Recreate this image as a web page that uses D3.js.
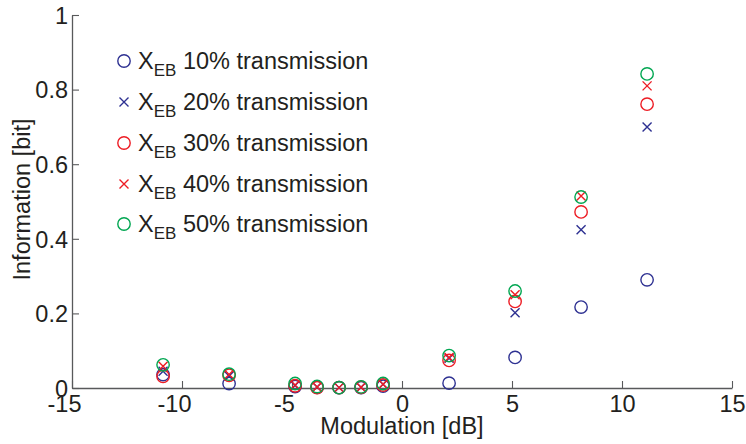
<!DOCTYPE html>
<html>
<head>
<meta charset="utf-8">
<script src="https://cdn.jsdelivr.net/npm/d3@7"></script>
<style>
  html, body { margin: 0; padding: 0; background: #fff; }
  svg { display: block; }
  text { font-family: Arial, "Liberation Sans", sans-serif; fill: #231f20; }
</style>
</head>
<body>
<svg id="chart" width="746" height="444"></svg>
<script>
// Modulation depth (dB) at which information was measured
const modulation = [-10.86, -7.86, -4.86, -3.86, -2.86, -1.86, -0.86, 2.14, 5.14, 8.14, 11.14];

// Information (bit) per transmission level
const trans10 = [0.036, 0.012, 0.004, 0.002, 0.001, 0.001, 0.005, 0.013, 0.082, 0.217, 0.290];
const trans20 = [0.045, 0.032, 0.007, 0.003, 0.001, 0.002, 0.010, 0.080, 0.202, 0.424, 0.700];
const trans30 = [0.031, 0.034, 0.006, 0.001, 0.001, 0.002, 0.008, 0.074, 0.232, 0.472, 0.761];
const trans40 = [0.058, 0.036, 0.008, 0.003, 0.001, 0.002, 0.010, 0.082, 0.250, 0.515, 0.810];
const trans50 = [0.062, 0.037, 0.012, 0.004, 0.001, 0.003, 0.012, 0.087, 0.260, 0.512, 0.842];

const seriesLabels = ["10%", "20%", "30%", "40%", "50%"];
const xTicks = [-15, -10, -5, 0, 5, 10, 15];
const yTicks = [0, 0.2, 0.4, 0.6, 0.8, 1];

const series = [
  { label: seriesLabels[0], values: trans10, marker: "circle", color: "#2e3192" },
  { label: seriesLabels[1], values: trans20, marker: "cross",  color: "#2e3192" },
  { label: seriesLabels[2], values: trans30, marker: "circle", color: "#ed1c24" },
  { label: seriesLabels[3], values: trans40, marker: "cross",  color: "#ed1c24" },
  { label: seriesLabels[4], values: trans50, marker: "circle", color: "#00a651" }
];

const svg = d3.select("#chart");
const margin = { left: 72, right: 14, top: 15, bottom: 56 };
const W = 746, H = 444;

const x = d3.scaleLinear().domain([-15, 15]).range([margin.left, W - margin.right]);
const y = d3.scaleLinear().domain([0, 1]).range([H - margin.bottom, margin.top]);

const axisColor = "#58595b";
const fontSize = 23.5;
const fontFamily = "Arial, 'Liberation Sans', sans-serif";

// plain hyphen for negative numbers
const numFmt = d => String(+d.toFixed(1));

// x axis with inward ticks
const xAxis = svg.append("g").attr("transform", `translate(0,${y(0)})`)
  .call(d3.axisBottom(x).tickValues(xTicks).tickSizeInner(-7).tickSizeOuter(0).tickFormat(numFmt));
xAxis.select(".domain").attr("stroke", axisColor).attr("stroke-width", 1.3);
xAxis.selectAll(".tick line").attr("stroke", axisColor).attr("stroke-width", 1.1);
xAxis.selectAll(".tick text")
  .attr("y", 24).attr("dy", 0)
  .attr("dx", d => d < 0 ? -8 : 0)
  .style("font-size", fontSize + "px")
  .style("font-family", fontFamily)
  .attr("fill", "#231f20");

// y axis with inward ticks
const yAxis = svg.append("g").attr("transform", `translate(${x(-15)},0)`)
  .call(d3.axisLeft(y).tickValues(yTicks).tickSizeInner(-7).tickSizeOuter(0).tickFormat(numFmt));
yAxis.select(".domain").attr("stroke", axisColor).attr("stroke-width", 1.3);
yAxis.selectAll(".tick text")
  .attr("x", -4).attr("dy", "0.35em")
  .style("font-size", fontSize + "px")
  .style("font-family", fontFamily)
  .attr("fill", "#231f20");
yAxis.selectAll(".tick line").attr("stroke", axisColor).attr("stroke-width", 1.1);

// axis titles
svg.append("text")
  .attr("x", x(0)).attr("y", 434)
  .attr("text-anchor", "middle")
  .style("font-size", fontSize + "px")
  .text("Modulation [dB]");

svg.append("text")
  .attr("transform", `translate(30,${(y(0) + y(1)) / 2 - 2}) rotate(-90)`)
  .attr("text-anchor", "middle")
  .style("font-size", fontSize + "px")
  .text("Information [bit]");

// marker drawing helper
function drawMarker(g, type, color) {
  if (type === "circle") {
    g.append("circle").attr("r", 6.2).attr("fill", "none")
      .attr("stroke", color).attr("stroke-width", 1.4);
  } else {
    const s = 4.5;
    g.append("path").attr("d", `M${-s},${-s}L${s},${s}M${-s},${s}L${s},${-s}`)
      .attr("fill", "none").attr("stroke", color).attr("stroke-width", 1.4);
  }
}

// data points
series.forEach(s => {
  const pts = svg.append("g").selectAll("g")
    .data(s.values.map((v, i) => ({ x: modulation[i], y: v })))
    .join("g")
    .attr("transform", d => `translate(${x(d.x)},${y(d.y)})`);
  pts.each(function () { drawMarker(d3.select(this), s.marker, s.color); });
});

// legend
const legend = svg.append("g");
const legendY = [61, 102, 143, 184, 224];
series.forEach((s, i) => {
  const row = legend.append("g").attr("transform", `translate(124,${legendY[i]})`);
  drawMarker(row, s.marker, s.color);
  const t = row.append("text").attr("x", 14).attr("y", 8).style("font-size", fontSize + "px");
  t.append("tspan").text("X");
  t.append("tspan").attr("dy", 7).style("font-size", "17px").text("EB");
  t.append("tspan").attr("dy", -7).text(" " + s.label + " transmission");
});
</script>
</body>
</html>
